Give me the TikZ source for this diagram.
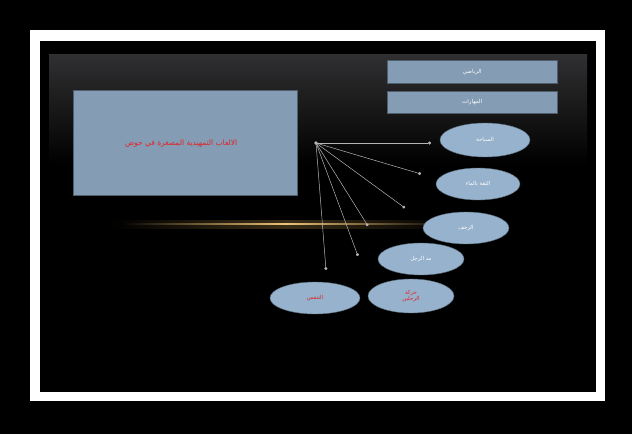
\documentclass[tikz,border=0pt]{standalone}
\usepackage{fontspec}
\newfontfamily\arabicfont[Script=Arabic]{DejaVu Sans}
\TeXXeTstate=1
\usetikzlibrary{shapes.geometric,arrows.meta}

\definecolor{boxblue}{RGB}{132,156,180}
\definecolor{ovalblue}{RGB}{150,178,204}
\definecolor{spokegray}{RGB}{185,180,180}
\definecolor{glowgold}{RGB}{235,185,95}
\definecolor{slidegray}{RGB}{48,48,50}
\definecolor{labelred}{RGB}{225,35,40}

\tikzset{
  titlebox/.style={rectangle, fill=boxblue, draw=boxblue!60!black, anchor=north west, inner sep=0pt},
  skill/.style={ellipse, fill=ovalblue, draw=ovalblue!60!black, minimum width=88pt, minimum height=32pt,
    inner sep=0pt, align=center, text=white, font=\arabicfont\fontsize{5.5}{6.5}\selectfont},
  spoke/.style={draw=spokegray, line width=0.5pt, -{Circle[length=3pt]}}
}

\begin{document}
\begin{tikzpicture}[x=1pt, y=-1pt]
\useasboundingbox (0,0) rectangle (632,434);

% frame and slide
\fill[black] (0,0) rectangle (632,434);
\fill[white] (30,30) rectangle (605,401);
\fill[black] (40,41) rectangle (596,392);
\shade[top color=slidegray, bottom color=black] (49,54) rectangle (587,165);
\fill[black] (49,165) rectangle (587,383);

% gold line
\shade[left color=black, right color=black, middle color=glowgold!25!black] (110,220) rectangle (460,228);
\shade[left color=black, right color=black, middle color=glowgold!85!white] (120,223.3) rectangle (450,224.7);

% boxes
\node[titlebox, minimum width=170pt, minimum height=23pt] (topone) at (387,60) {};
\node[text=white, font=\arabicfont\fontsize{5.5}{6.5}\selectfont] at (topone.center) {\beginR الرياضي\endR};
\node[titlebox, minimum width=170pt, minimum height=22pt] (toptwo) at (387,91) {};
\node[text=white, font=\arabicfont\fontsize{5.5}{6.5}\selectfont] at (toptwo.center) {\beginR المهارات\endR};
\node[titlebox, minimum width=224pt, minimum height=105pt] (mainbox) at (73,90) {};
\node[text=labelred, font=\arabicfont\fontsize{7.5}{9}\selectfont] at ([xshift=-4pt, yshift=-1pt]mainbox.center) {\beginR الالعاب التمهيدية المصغرة في حوض\endR};

% skills
\node[skill, minimum width=90pt, minimum height=34pt] (e1) at (485,140) {\beginR السباحة\endR};
\node[skill, minimum width=84pt] (e2) at (478,184) {\beginR الثقة بالماء\endR};
\node[skill, minimum width=86pt] (e3) at (466,228) {\beginR الزحف\endR};
\node[skill, minimum width=86pt] (e4) at (421,259) {\beginR مد الرجل\endR};
\node[skill, minimum width=86pt, minimum height=34pt, text=labelred] (e5) at (411,296) {\beginR حركة\endR\\\beginR الرجلين\endR};
\node[skill, minimum width=90pt, text=labelred] (e6) at (315,298) {\beginR التنفس\endR};

% spokes
\node[circle, fill=spokegray, inner sep=1.3pt] (hub) at (316,143) {};
\coordinate (c1) at (431,143);
\coordinate (c2) at (421,174);
\coordinate (c3) at (405,208);
\coordinate (c4) at (368,226);
\coordinate (c5) at (358,256);
\coordinate (c6) at (326,270);
\foreach \k in {1,...,6}
  \draw[spoke] (hub.center) -- (c\k);
\end{tikzpicture}
\end{document}
